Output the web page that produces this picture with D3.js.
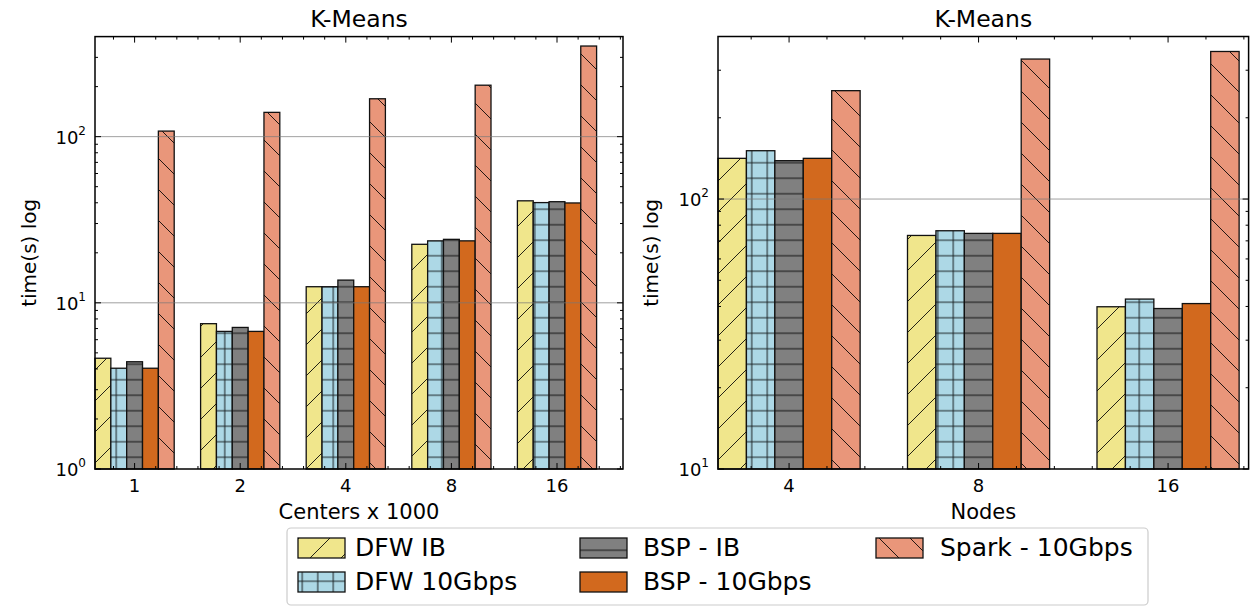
<!DOCTYPE html>
<html>
<head>
<meta charset="utf-8">
<script src="https://cdn.jsdelivr.net/npm/d3@7/dist/d3.min.js"></script>
<style>
  body { margin: 0; background: #fff; }
  text { font-family: "DejaVu Sans", sans-serif; fill: #000; }
</style>
</head>
<body>
<svg id="chart" width="1256" height="608"></svg>
<script>
// ---- data ----
const seriesNames = ["DFW IB", "DFW 10Gbps", "BSP - IB", "BSP - 10Gbps", "Spark - 10Gbps"];
const seriesColors = ["#f0e68c", "#add8e6", "#808080", "#d2691e", "#e9967a"];
const seriesHatch = ["/", "+", "-", "", "\\"];

const centersLabels = ["1", "2", "4", "8", "16"];
const centersDfwIb = [4.64, 7.49, 12.5, 22.5, 41.1];
const centersDfw10 = [4.04, 6.73, 12.5, 23.6, 40.1];
const centersBspIb = [4.42, 7.11, 13.7, 24.1, 40.6];
const centersBsp10 = [4.04, 6.73, 12.5, 23.6, 39.9];
const centersSpark = [108, 140, 169, 204, 351];

const nodesLabels = ["4", "8", "16"];
const nodesDfwIb = [141.5, 73.3, 39.9];
const nodesDfw10 = [151, 76.3, 42.6];
const nodesBspIb = [138.7, 74.6, 39.3];
const nodesBsp10 = [141.5, 74.6, 41.0];
const nodesSpark = [252, 330, 352];

const leftYTicks = [1, 10, 100];
const rightYTicks = [10, 100];

const barWidth = 0.15;

const svg = d3.select("#chart");
svg.append("rect").attr("width", 1256).attr("height", 608).attr("fill", "#fff");

// hatch patterns
const defs = svg.append("defs");
function makePattern(id, color, hatch) {
  const big = 31, small = 15.5;
  const size = (hatch === "+" || hatch === "-") ? small : big;
  const p = defs.append("pattern")
    .attr("id", id)
    .attr("patternUnits", "userSpaceOnUse")
    .attr("width", size).attr("height", size);
  p.append("rect").attr("width", size).attr("height", size).attr("fill", color);
  let d = "";
  if (hatch === "/") d = `M0,${size} L${size},0 M-8,8 L8,-8 M${size - 8},${size + 8} L${size + 8},${size - 8}`;
  if (hatch === "\\") d = `M0,0 L${size},${size} M-8,${size - 8} L8,${size + 8} M${size - 8},-8 L${size + 8},8`;
  if (hatch === "+") d = `M0,${size / 2} L${size},${size / 2} M${size / 2},0 L${size / 2},${size}`;
  if (hatch === "-") d = `M0,${size / 2} L${size},${size / 2}`;
  if (d) p.append("path").attr("d", d).attr("stroke", "#000").attr("stroke-width", 1).attr("stroke-opacity", 0.85);
}
seriesNames.forEach((n, k) => makePattern("hatch" + k, seriesColors[k], seriesHatch[k]));

function supLabel(sel, value) {
  const exp = Math.round(Math.log10(value));
  sel.text("10");
  sel.append("tspan").attr("dy", -9).attr("font-size", 12).text(exp);
}

function drawPanel(opt) {
  const { left, right, top, bottom, xMax, yDomain, labels, series, yTicks, xTitle, yTitleX } = opt;
  const x = d3.scaleLinear().domain([0, xMax]).range([left, right]);
  const y = d3.scaleLog().domain(yDomain).range([bottom, top]);
  const g = svg.append("g");

  // bars
  series.forEach((vals, k) => {
    g.append("g").selectAll("rect")
      .data(vals)
      .join("rect")
      .attr("x", (d, i) => x(i + k * barWidth))
      .attr("width", x(barWidth) - x(0))
      .attr("y", d => y(d))
      .attr("height", d => bottom - y(d))
      .attr("fill", `url(#hatch${k})`)
      .attr("stroke", "#111")
      .attr("stroke-width", 1.3);
  });

  // grid on top (matplotlib classic)
  g.append("g").selectAll("line")
    .data(yTicks.filter(v => v > yDomain[0]))
    .join("line")
    .attr("x1", left).attr("x2", right)
    .attr("y1", d => y(d)).attr("y2", d => y(d))
    .attr("stroke", "#777").attr("stroke-opacity", 0.7).attr("stroke-width", 1);

  // ticks
  const centers = labels.map((l, i) => i + 2.5 * barWidth);
  const xTicks = d3.range(0.175, xMax + 1e-9, 0.2);
  const isMajorX = v => centers.some(c => Math.abs(c - v) < 1e-6);
  const minorY = [];
  [1, 10, 100].forEach(dec => d3.range(2, 10).forEach(m => {
    const v = dec * m;
    if (v > yDomain[0] && v < yDomain[1]) minorY.push(v);
  }));
  const tk = g.append("g").attr("stroke", "#000").attr("stroke-width", 1);
  xTicks.forEach(v => {
    const len = isMajorX(v) ? 6 : 3;
    tk.append("line").attr("x1", x(v)).attr("x2", x(v)).attr("y1", bottom).attr("y2", bottom - len);
    tk.append("line").attr("x1", x(v)).attr("x2", x(v)).attr("y1", top).attr("y2", top + len);
  });
  yTicks.concat(minorY).forEach(v => {
    const len = yTicks.includes(v) ? 6 : 3;
    tk.append("line").attr("x1", left).attr("x2", left + len).attr("y1", y(v)).attr("y2", y(v));
    tk.append("line").attr("x1", right).attr("x2", right - len).attr("y1", y(v)).attr("y2", y(v));
  });

  // frame
  g.append("rect")
    .attr("x", left).attr("y", top)
    .attr("width", right - left).attr("height", bottom - top)
    .attr("fill", "none").attr("stroke", "#000").attr("stroke-width", 1.5);

  // tick labels
  g.append("g").selectAll("text")
    .data(labels)
    .join("text")
    .attr("x", (d, i) => x(centers[i]))
    .attr("y", bottom + 23)
    .attr("text-anchor", "middle")
    .attr("font-size", 18)
    .text(d => d);
  g.append("g").selectAll("text")
    .data(yTicks)
    .join("text")
    .attr("x", left - 9)
    .attr("y", d => y(d) + 7)
    .attr("text-anchor", "end")
    .attr("font-size", 18)
    .each(function (d) { supLabel(d3.select(this), d); });

  // titles
  const cx = (left + right) / 2;
  g.append("text").attr("x", cx).attr("y", 27).attr("text-anchor", "middle")
    .attr("font-size", 23.5).text("K-Means");
  g.append("text").attr("x", cx).attr("y", 519).attr("text-anchor", "middle")
    .attr("font-size", 21).text(xTitle);
  g.append("text")
    .attr("transform", `translate(${yTitleX},${(top + bottom) / 2}) rotate(-90)`)
    .attr("text-anchor", "middle")
    .attr("font-size", 20).text("time(s) log");
}

drawPanel({
  left: 95, right: 623, top: 36.6, bottom: 469,
  xMax: 5, yDomain: [1, 400], labels: centersLabels,
  series: [centersDfwIb, centersDfw10, centersBspIb, centersBsp10, centersSpark],
  yTicks: leftYTicks, xTitle: "Centers x 1000", yTitleX: 36
});

drawPanel({
  left: 718, right: 1248.6, top: 36.5, bottom: 469,
  xMax: 2.8, yDomain: [10, 400], labels: nodesLabels,
  series: [nodesDfwIb, nodesDfw10, nodesBspIb, nodesBsp10, nodesSpark],
  yTicks: rightYTicks, xTitle: "Nodes", yTitleX: 658
});

// legend
const legend = svg.append("g");
legend.append("rect")
  .attr("x", 287).attr("y", 528).attr("width", 861).attr("height", 77)
  .attr("rx", 4).attr("fill", "#fff").attr("stroke", "#ccc").attr("stroke-width", 1.2);
const colX = [298, 580, 876];
const textX = [355, 643, 940];
const rowY = [548, 582];
seriesNames.forEach((name, k) => {
  const col = Math.floor(k / 2), row = k % 2;
  const px = colX[col], py = rowY[row];
  legend.append("rect")
    .attr("x", px).attr("y", py - 10).attr("width", 47).attr("height", 20)
    .attr("fill", `url(#hatch${k})`).attr("stroke", "#111").attr("stroke-width", 1.3);
  legend.append("text")
    .attr("x", textX[col]).attr("y", py + 8)
    .attr("font-size", 25).text(name);
});
</script>
</body>
</html>
